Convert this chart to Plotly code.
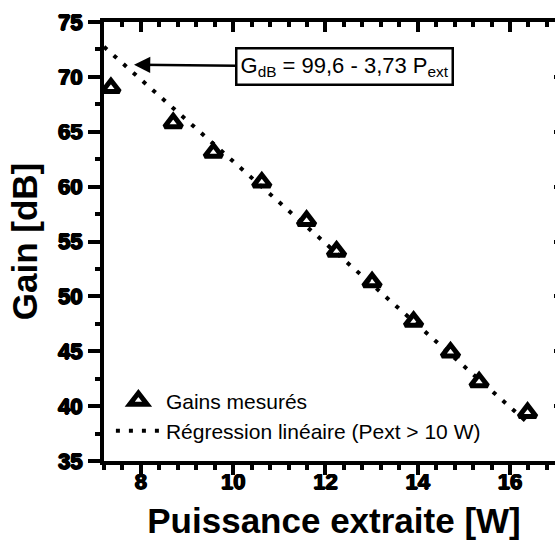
import plotly.graph_objects as go

# Measured data
p_ext = [7.35, 8.7, 9.57, 10.62, 11.59, 12.24, 13.01, 13.91, 14.71, 15.33, 16.38]
gain = [69.0, 65.8, 63.1, 60.4, 56.9, 54.1, 51.3, 47.7, 44.9, 42.2, 39.4]

# Linear regression line (G = 99.6 - 3.73 P) endpoints
reg_p = [7.2, 16.38]
reg_g = [72.74, 38.50]

x_ticks = [8, 10, 12, 14, 16]
x_ticklabels = ["8", "10", "12", "14", "16"]
y_ticks = [35, 40, 45, 50, 55, 60, 65, 70, 75]
y_ticklabels = ["35", "40", "45", "50", "55", "60", "65", "70", "75"]

x_range = [7.2, 17.17]
y_range = [35, 75]

FONT = "Arial, Liberation Sans, sans-serif"
SHADOW = "0.8px 0px 0px black, -0.8px 0px 0px black, 0px 0.8px 0px black, 0px -0.8px 0px black"

fig = go.Figure()
fig.add_trace(go.Scatter(
    x=p_ext, y=gain, mode="markers", name="Gains mesurés",
    marker=dict(symbol="triangle-up-open", size=15, color="black",
                line=dict(width=5, color="black")),
))
fig.add_trace(go.Scatter(
    x=reg_p, y=reg_g, mode="lines", name="Régression linéaire (Pext > 10 W)",
    line=dict(color="black", width=4, dash="4px,9px"),
))
# dummy trace to create the mirrored top/right axes
fig.add_trace(go.Scatter(x=[], y=[], xaxis="x2", yaxis="y2", showlegend=False,
                         hoverinfo="skip"))

tickfont = dict(family=FONT, size=22, color="black", weight=700, shadow=SHADOW)

fig.update_layout(
    template="none",
    width=566, height=542,
    margin=dict(l=104, r=2, t=22, b=81),
    paper_bgcolor="white", plot_bgcolor="white",
    showlegend=True,
    legend=dict(x=0.015, y=0.022, xanchor="left", yanchor="bottom",
                bgcolor="rgba(0,0,0,0)", borderwidth=0,
                font=dict(family=FONT, size=21, color="black"),
                itemwidth=45, tracegroupgap=0),
    xaxis=dict(range=x_range, tickvals=x_ticks,
               ticktext=["<b>%s</b>" % t for t in x_ticklabels],
               ticks="outside", ticklen=10, ticklabelstandoff=-12,
               tickwidth=4, tickcolor="black", showline=True, linewidth=4,
               linecolor="black", showgrid=False, zeroline=False,
               tickfont=tickfont,
               minor=dict(tick0=0, dtick=0.4, ticks="outside", ticklen=5,
                          tickwidth=4, tickcolor="black", showgrid=False),
               title=dict(text="<b>Puissance extraite [W]</b>", standoff=16,
                          font=dict(family=FONT, size=35, color="black", weight=700))),
    yaxis=dict(range=y_range, tickvals=y_ticks,
               ticktext=["<b>%s</b>" % t for t in y_ticklabels],
               ticks="outside", ticklen=12, ticklabelstandoff=1,
               tickwidth=4, tickcolor="black", showline=True, linewidth=4,
               linecolor="black", showgrid=False, zeroline=False,
               tickfont=tickfont,
               minor=dict(tick0=0, dtick=2.5, ticks="outside", ticklen=5,
                          tickwidth=4, tickcolor="black", showgrid=False),
               title=dict(text="<b>Gain [dB]</b>", standoff=11,
                          font=dict(family=FONT, size=35, color="black", weight=700))),
    xaxis2=dict(range=x_range, overlaying="x", side="top", anchor="y2",
                tick0=0, dtick=2, ticks="inside", ticklen=10, tickwidth=4,
                tickcolor="black", showline=True, linewidth=4, linecolor="black",
                showgrid=False, zeroline=False, showticklabels=False,
                minor=dict(tick0=0, dtick=0.4, ticks="inside", ticklen=5,
                           tickwidth=4, tickcolor="black", showgrid=False)),
    yaxis2=dict(range=y_range, overlaying="y", side="right", anchor="x2",
                tick0=0, dtick=5, ticks="inside", ticklen=10, tickwidth=4,
                tickcolor="black", showline=True, linewidth=4, linecolor="black",
                showgrid=False, zeroline=False, showticklabels=False,
                minor=dict(tick0=0, dtick=2.5, ticks="inside", ticklen=5,
                           tickwidth=4, tickcolor="black", showgrid=False)),
    annotations=[dict(
        x=7.85, y=71.1, xref="x", yref="y",
        text="G<sub>dB</sub> = 99,6 - 3,73 P<sub>ext</sub>",
        font=dict(family=FONT, size=22, color="black"),
        showarrow=True, arrowhead=2, arrowsize=1.3, arrowwidth=2.5,
        arrowcolor="black", axref="pixel", ayref="pixel", ax=211, ay=2,
        bordercolor="black", borderwidth=2.5, borderpad=3, bgcolor="white",
    )],
)

fig.write_html("out.html", config={"displayModeBar": False},
               post_script="document.body.style.overflow='hidden';document.body.style.margin='0';")
